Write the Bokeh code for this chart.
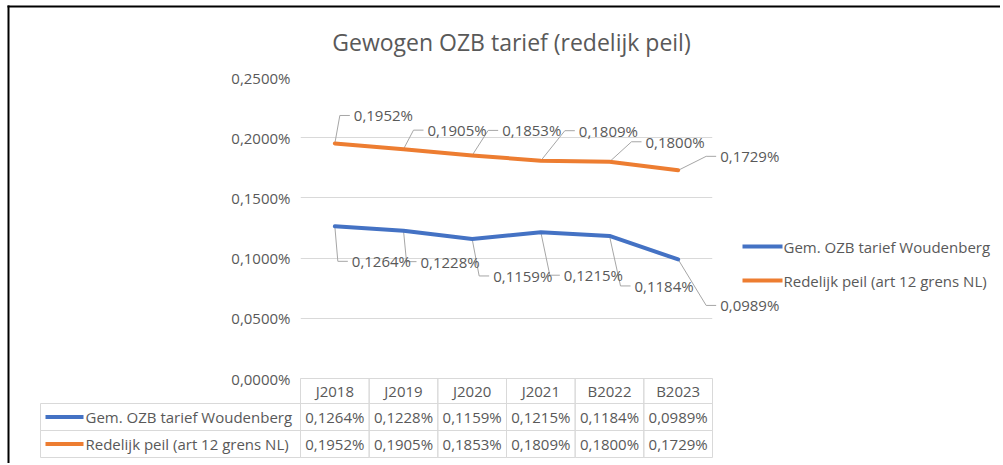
from bokeh.plotting import figure
from bokeh.models import (Range1d, ColumnDataSource, FixedTicker, CustomJSTickFormatter, LinearScale)
from bokeh.core.properties import value
from bokeh.embed import file_html
from bokeh.resources import INLINE

# ---------------- data ----------------
title = "Gewogen OZB tarief (redelijk peil)"
categories = ["J2018", "J2019", "J2020", "J2021", "B2022", "B2023"]
series_names = ["Gem. OZB tarief Woudenberg", "Redelijk peil (art 12 grens NL)"]
woudenberg = [0.1264, 0.1228, 0.1159, 0.1215, 0.1184, 0.0989]
redelijk = [0.1952, 0.1905, 0.1853, 0.1809, 0.1800, 0.1729]
y_ticks = [0.0, 0.05, 0.10, 0.15, 0.20, 0.25]

# ---------------- layout (canvas pixels) ----------------
W, H = 1000, 463
FL, FR, FT, FB = 300, 712, 77, 460     # plot frame
Y0 = 378                               # pixel y of value 0
ppu = (Y0 - FT) / y_ticks[-1]          # px per unit
colw = (FR - FL) / len(categories)
ROWS = [378, 403, 430, 457]            # table row boundaries
LABEL_COL = 40
LEG_X, LEG_Y = 742, [246, 280]

# data label offsets (px right, px down) from each point
blue_off = ([17, 17, 21, 23, 25, 42], [35, 31, 37, 43, 50, 46])
orange_off = ([19, 24, 30, 38, 36, 42], [-28, -19, -25, -30, -20, -14])

BLUE, ORANGE = "#4472C4", "#ED7D31"
GRID, TXT, LEAD = "#D9D9D9", "#595959", "#A6A6A6"
FONT = "Open Sans"
FS = "15px"
colors = [BLUE, ORANGE]


def fmt(v):
    return f"{v:.4f}".replace(".", ",") + "%"


def yd(yp):
    return (Y0 - yp) / ppu


xc = [i + 0.5 for i in range(len(categories))]   # category centres on the x scale

p = figure(width=W, height=H,
           x_range=Range1d(0, len(categories)), y_range=Range1d(yd(FB), y_ticks[-1]),
           output_backend="svg", toolbar_location=None, x_axis_location=None,
           min_border_left=FL, min_border_right=W - FR,
           min_border_top=FT, min_border_bottom=H - FB)
p.extra_x_ranges = {"px": Range1d(FL, FR)}
p.extra_x_scales = {"px": LinearScale()}
p.extra_y_ranges = {"py": Range1d(FB, FT)}
p.extra_y_scales = {"py": LinearScale()}
p.outline_line_color = None
p.background_fill_color = "white"
p.border_fill_color = "white"
p.xgrid.visible = False

ticker = FixedTicker(ticks=y_ticks)
p.yaxis.ticker = ticker
p.ygrid.ticker = ticker
p.ygrid.grid_line_color = GRID
p.ygrid.grid_line_width = 1
p.yaxis.formatter = CustomJSTickFormatter(code="return tick.toFixed(4).replace('.', ',') + '%';")
p.yaxis.axis_line_color = None
p.yaxis.major_tick_line_color = None
p.yaxis.minor_tick_line_color = None
p.yaxis.major_tick_out = 0
p.yaxis.major_tick_in = 0
p.yaxis.major_label_standoff = 10
p.yaxis.major_label_text_font = FONT
p.yaxis.major_label_text_font_size = FS
p.yaxis.major_label_text_color = TXT

OV = dict(x_range_name="px", y_range_name="py", level="overlay")
TXTSTYLE = dict(text_font=value(FONT), text_font_size=FS, text_color=TXT, text_baseline="middle")

# ---------------- table (value cells) ----------------
row_vals = [categories, [fmt(v) for v in woudenberg], [fmt(v) for v in redelijk]]
tx, ty, th, tt = [], [], [], []
for r in range(3):
    for c in range(len(categories)):
        tx.append(xc[c])
        ty.append(yd((ROWS[r] + ROWS[r + 1]) / 2))
        th.append((ROWS[r + 1] - ROWS[r]) / ppu)
        tt.append(row_vals[r][c])
tsrc = ColumnDataSource(dict(x=tx, y=ty, h=th, t=tt))
p.rect(x="x", y="y", width=1, height="h", source=tsrc, fill_color=None, line_color=GRID,
       line_width=1, level="overlay")
p.text(x="x", y="y", text="t", source=tsrc, text_align="center", **TXTSTYLE)

# row label column of the table
p.quad(left=[LABEL_COL] * 2, right=[FL] * 2, top=ROWS[1:3], bottom=ROWS[2:4],
       fill_color=None, line_color=GRID, line_width=1, **OV)
row_y = [(ROWS[r + 1] + ROWS[r + 2]) / 2 for r in range(2)]
p.segment(x0=[LABEL_COL + 5] * 2, x1=[LABEL_COL + 43] * 2, y0=row_y, y1=row_y,
          line_color=colors, line_width=4, **OV)
p.text(x=[LABEL_COL + 45] * 2, y=row_y, text=series_names, text_align="left", **TXTSTYLE, **OV)


# ---------------- leader lines ----------------
def leaders(vals, off):
    xs, ys = [], []
    for i, v in enumerate(vals):
        dx, dy = off[0][i], off[1][i]
        x0 = xc[i]
        yl = v - dy / ppu
        xs.append([x0, x0 + (dx - 14) / colw, x0 + (dx - 4) / colw])
        ys.append([v, yl, yl])
    return xs, ys


for vals, off in [(woudenberg, blue_off), (redelijk, orange_off)]:
    xs, ys = leaders(vals, off)
    p.multi_line(xs, ys, line_color=LEAD, line_width=1, level="overlay")

# ---------------- series ----------------
for vals, col in zip([woudenberg, redelijk], colors):
    p.line(xc, vals, line_color=col, line_width=4, line_cap="round", line_join="round", level="overlay")

# data labels
for vals, off in [(woudenberg, blue_off), (redelijk, orange_off)]:
    lx = [xc[i] + off[0][i] / colw for i in range(len(vals))]
    ly = [vals[i] - off[1][i] / ppu for i in range(len(vals))]
    p.text(x=lx, y=ly, text=[fmt(v) for v in vals], text_align="left", level="overlay", **TXTSTYLE)

# legend
p.segment(x0=[LEG_X] * 2, x1=[LEG_X + 40] * 2, y0=LEG_Y, y1=LEG_Y, line_color=colors, line_width=4, **OV)
p.text(x=[LEG_X + 41] * 2, y=LEG_Y, text=series_names, text_align="left", **TXTSTYLE, **OV)

# title
p.text(x=[511], y=[41], text=[title], text_font=value(FONT), text_font_size="23px", text_color=TXT,
       text_align="center", text_baseline="middle", **OV)

# outer black frame (left & top)
p.quad(left=[7, 7], right=[9, W], top=[5, 5], bottom=[H, 7], fill_color="black", line_color=None, **OV)

open("out.html", "w").write(file_html(p, INLINE))
